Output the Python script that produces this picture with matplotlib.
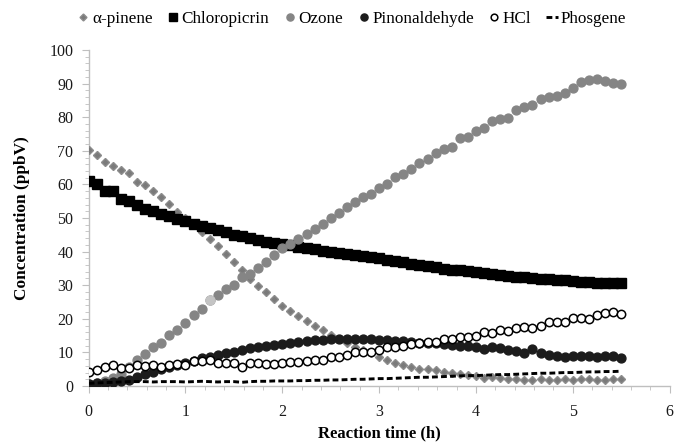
import numpy as np
import matplotlib
matplotlib.use("Agg")
import matplotlib.pyplot as plt

plt.rcParams['font.family'] = ['Liberation Serif', 'DejaVu Serif']

# time axis: one reading every 5 minutes, 0 to 5.5 h
time_h = [i / 12 for i in range(67)]

alpha_pinene = [70.2, 68.8, 66.6, 65.6, 64.3, 63.5, 60.8, 59.8, 58.1, 56.3,
                54.1, 51.9, 49.9, 47.9, 45.8, 43.8, 41.7, 39.4, 37.0, 34.5,
                31.8, 29.8, 27.9, 25.8, 23.8, 22.2, 20.8, 19.4, 18.0, 16.6,
                15.2, 14.0, 12.7, 11.7, 10.8, 9.9, 8.7, 7.7, 6.9, 6.2,
                5.7, 5.2, 5.0, 4.8, 4.3, 3.8, 3.6, 3.3, 2.9, 2.4,
                2.7, 2.3, 2.2, 2.0, 1.9, 1.8, 2.0, 1.8, 1.9, 2.1,
                1.8, 2.0, 2.2, 1.8, 1.9, 2.2, 2.0]

chloropicrin = [61.0, 60.2, 58.0, 57.9, 55.8, 55.0, 53.8, 52.6, 52.0, 51.2,
                50.5, 49.7, 49.0, 48.3, 47.6, 47.0, 46.3, 45.7, 45.0, 44.5,
                44.0, 43.5, 43.0, 42.6, 42.3, 41.9, 41.5, 41.1, 40.7, 40.3,
                40.0, 39.6, 39.4, 39.0, 38.7, 38.5, 38.1, 37.6, 37.3, 36.8,
                36.3, 36.0, 35.7, 35.3, 34.9, 34.6, 34.4, 34.1, 33.9, 33.7,
                33.4, 33.0, 32.6, 32.4, 32.3, 32.1, 31.9, 31.8, 31.6, 31.6,
                31.3, 30.9, 31.0, 30.8, 30.7, 30.6, 30.6]

ozone = [0.5, 1.0, 1.5, 2.5, 3.5, 5.7, 7.7, 9.5, 11.7, 12.7,
         15.2, 16.7, 18.7, 21.1, 22.8, 25.6, 27.1, 28.8, 30.1, 32.3,
         33.3, 35.0, 37.0, 39.0, 41.0, 42.3, 43.7, 45.1, 46.6, 48.2,
         49.9, 51.4, 53.2, 54.9, 56.2, 57.1, 58.9, 60.1, 62.3, 63.1,
         64.6, 66.5, 67.6, 69.3, 70.5, 71.0, 73.7, 74.2, 75.9, 76.7,
         78.9, 79.5, 79.9, 82.1, 83.1, 83.5, 85.4, 86.1, 86.4, 87.3,
         88.6, 90.6, 91.1, 91.3, 90.8, 90.3, 89.9]

pinonaldehyde = [0.6, 0.8, 1.0, 1.3, 1.6, 1.9, 2.8, 3.6, 4.3, 5.0,
                 5.6, 6.2, 6.9, 7.5, 8.2, 8.7, 9.2, 9.7, 10.2, 10.7,
                 11.2, 11.7, 12.0, 12.3, 12.6, 12.8, 13.1, 13.4, 13.6, 13.8,
                 13.9, 14.0, 14.1, 14.0, 13.9, 13.9, 13.8, 13.7, 13.5, 13.3,
                 13.1, 12.9, 12.8, 12.7, 12.5, 12.2, 12.0, 11.8, 11.6, 11.1,
                 11.5, 11.2, 10.8, 10.5, 9.8, 10.9, 9.8, 9.3, 9.0, 8.7,
                 8.9, 9.0, 9.0, 8.7, 9.0, 8.9, 8.4]

hcl = [4.3, 4.8, 5.6, 6.25, 5.4, 5.4, 6.25, 5.95, 6.3, 5.7,
       6.1, 6.6, 6.3, 7.3, 7.3, 7.7, 6.75, 6.75, 6.75, 5.8,
       6.8, 6.8, 6.45, 6.4, 6.9, 7.2, 7.2, 7.5, 7.8, 7.8,
       8.5, 8.7, 9.2, 10.2, 10.2, 10.2, 10.7, 11.5, 11.5, 11.9,
       12.5, 12.7, 13.2, 13.2, 14.0, 14.0, 14.7, 14.6, 14.9, 16.2,
       15.9, 16.7, 16.5, 17.2, 17.5, 17.2, 17.9, 19.1, 19.1, 19.1,
       20.1, 20.1, 19.8, 21.1, 21.6, 22.1, 21.4]

phosgene = [0.8, 0.9, 1.0, 1.1, 1.2, 1.3, 1.3, 1.3, 1.2, 1.3,
            1.3, 1.3, 1.2, 1.3, 1.4, 1.3, 1.2, 1.3, 1.3, 1.1,
            1.3, 1.4, 1.4, 1.5, 1.5, 1.5, 1.6, 1.6, 1.7, 1.7,
            1.8, 1.8, 1.9, 2.0, 2.0, 2.1, 2.2, 2.2, 2.3, 2.4,
            2.5, 2.6, 2.6, 2.7, 2.8, 2.9, 3.0, 3.1, 3.1, 3.2,
            3.3, 3.4, 3.4, 3.5, 3.6, 3.7, 3.8, 3.8, 3.9, 4.0,
            4.0, 4.1, 4.2, 4.2, 4.3, 4.3, 4.4]

x_ticks = [0, 1, 2, 3, 4, 5, 6]
y_ticks = [0, 10, 20, 30, 40, 50, 60, 70, 80, 90, 100]

fig = plt.figure(figsize=(6.74, 4.45), dpi=100)
ax = fig.add_axes([0.1315, 0.1326, 0.862, 0.755])

ax.plot(time_h, alpha_pinene, linestyle='none', marker='D', markersize=4.4,
        color='#7a7a7a', markeredgecolor='#8c8c8c', label='α-pinene', zorder=3)
ax.plot(time_h, chloropicrin, linestyle='none', marker='s', markersize=7.7,
        color='black', label='Chloropicrin', zorder=4)
ax.plot(time_h, ozone, linestyle='none', marker='o', markersize=6.4,
        color='#858585', markeredgecolor='#858585', label='Ozone', zorder=5)
ax.plot(time_h[15], ozone[15], linestyle='none', marker='o', markersize=6.4,
        color='#c4c4c4', markeredgecolor='#c4c4c4', zorder=5.1)
ax.plot(time_h, pinonaldehyde, linestyle='none', marker='o', markersize=6.4,
        color='#1c1c1c', label='Pinonaldehyde', zorder=6)
ax.plot(time_h, hcl, linestyle='none', marker='o', markersize=6.0,
        markerfacecolor='white', markeredgecolor='black', markeredgewidth=1.1,
        label='HCl', zorder=7)
ax.plot(time_h, phosgene, linestyle=(0, (2.0, 1.1)), linewidth=2.1,
        color='black', label='Phosgene', zorder=8)

ax.set_xlim(0, 6)
ax.set_ylim(0, 100)
ax.set_xticks(x_ticks)
ax.set_yticks(y_ticks)
ax.set_xticks(np.arange(0, 6.01, 0.2), minor=True)
ax.set_yticks(np.arange(0, 100.1, 2), minor=True)

for s in ['top', 'right']:
    ax.spines[s].set_visible(False)
for s in ['left', 'bottom']:
    ax.spines[s].set_color('#bfbfbf')
    ax.spines[s].set_linewidth(1.0)

ax.tick_params(axis='both', which='major', direction='out', length=5,
               color='#bfbfbf', labelsize=11.5, labelcolor='#1a1a1a', pad=6)
ax.tick_params(axis='x', which='major', pad=8)
ax.tick_params(axis='both', which='minor', direction='out', length=3,
               color='#bfbfbf')

ax.set_xlabel('Reaction time (h)', fontsize=12, fontweight='bold', labelpad=4)
ax.set_ylabel('Concentration (ppbV)', fontsize=12.4, fontweight='bold', labelpad=14)

fig.legend(loc='center', bbox_to_anchor=(0.522, 0.958), ncol=6, frameon=False,
           fontsize=12.3, handlelength=0.7, handletextpad=0.15,
           columnspacing=0.85, markerscale=0.8)

fig.savefig('out.png', dpi=100)
